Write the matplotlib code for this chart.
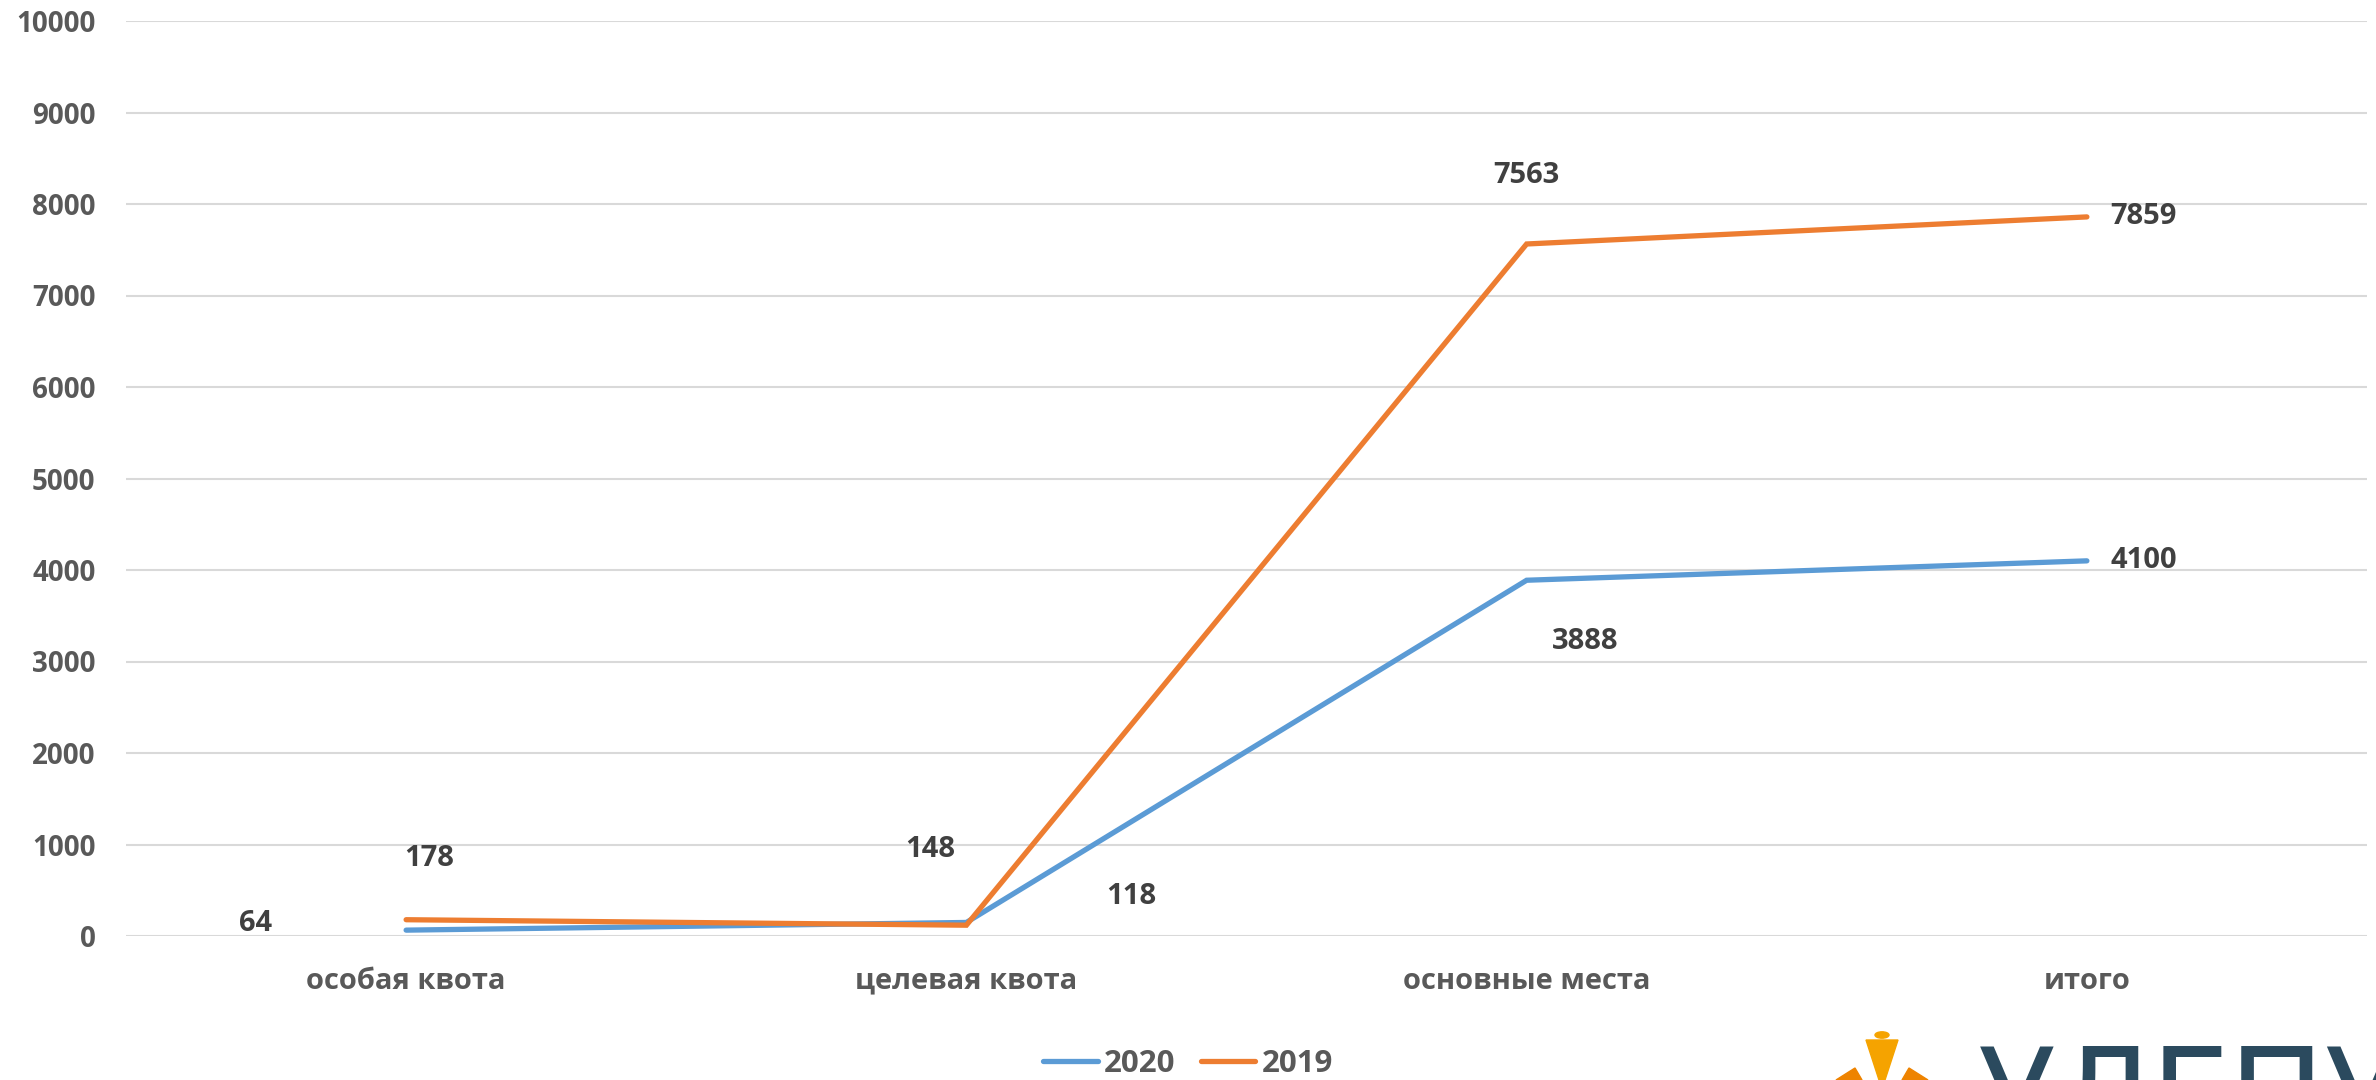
import matplotlib
matplotlib.use('Agg')
import matplotlib.pyplot as plt
from matplotlib.patches import Circle, Polygon

plt.rcParams['font.family'] = ['Open Sans', 'DejaVu Sans']

# data
categories = ['особая квота', 'целевая квота', 'основные места', 'итого']
years = ['2020', '2019']
values_2020 = [64, 148, 3888, 4100]
values_2019 = [178, 118, 7563, 7859]
yticks = [0, 1000, 2000, 3000, 4000, 5000, 6000, 7000, 8000, 9000, 10000]

# label offsets in pixels (how the original chart placed them)
offsets_2020 = [(-151, 7), (-36, 73), (59, -61), (57, 0)]
offsets_2019 = [(23, 61), (165, 29), (0, 68), (57, 0)]

colors = {'2020': '#5B9BD5', '2019': '#ED7D31'}
grey = '#595959'
label_col = '#404040'

fig = plt.figure(figsize=(23.76, 10.8), dpi=100)
ax = fig.add_axes([126/2376, 1-936/1080, (2367-126)/2376, (936-21)/1080])

x = list(range(len(categories)))
for year, vals in zip(years, [values_2020, values_2019]):
    ax.plot(x, vals, color=colors[year], lw=3.8, solid_capstyle='round',
            solid_joinstyle='miter', label=year, zorder=3)

for vals, offs in [(values_2020, offsets_2020), (values_2019, offsets_2019)]:
    for xi, v, (dx, dy) in zip(x, vals, offs):
        ax.annotate(str(v), (xi, v), xytext=(dx, dy), textcoords='offset pixels',
                    ha='center', va='center', fontsize=21, fontweight='bold',
                    color=label_col)

ax.set_xlim(-0.5, len(categories) - 0.5)
ax.set_ylim(0, 10000)
ax.set_yticks(yticks)
ax.set_yticklabels([str(t) for t in yticks], fontsize=20, fontweight='bold', color=grey)
ax.set_xticks(x)
ax.set_xticklabels(categories, fontsize=21, fontweight='bold', color=grey)
ax.tick_params(axis='both', length=0)
ax.tick_params(axis='y', pad=22)
ax.tick_params(axis='x', pad=22)
ax.grid(axis='y', color='#D9D9D9', lw=1.5, zorder=0)
ax.set_axisbelow(True)
for s in ax.spines.values():
    s.set_visible(False)

leg = fig.legend(loc='center', bbox_to_anchor=(0.5, 1-1064/1080), ncol=2, frameon=False,
                 fontsize=22.5, handlelength=1.75, handletextpad=0.2, columnspacing=0.8)
for t in leg.get_texts():
    t.set_fontweight('bold')
    t.set_color(grey)
for h in leg.get_lines():
    h.set_linewidth(3.8)
    h.set_solid_capstyle('round')

# logo in the corner (partly cut off by the figure edge)
W, H = 2376, 1080
def fxy(px, py):
    return (px / W, 1 - py / H)

fig.text(*fxy(1978, 1042), 'УЛГПУ', fontsize=92, color='#2B4A5E', ha='left', va='top',
         family=['DejaVu Sans Condensed', 'DejaVu Sans'])
fig.patches.append(Circle(fxy(1882, 1035), 7/W, transform=fig.transFigure,
                          color='#F5A300', zorder=5))
fig.patches.append(Polygon([fxy(1866, 1040), fxy(1898, 1040), fxy(1885, 1080), fxy(1879, 1080)],
                           closed=True, transform=fig.transFigure, color='#F5A300', zorder=5))
fig.patches.append(Polygon([fxy(1836, 1080), fxy(1855, 1068), fxy(1862, 1080)],
                           closed=True, transform=fig.transFigure, color='#EE8300', zorder=5))
fig.patches.append(Polygon([fxy(1928, 1080), fxy(1909, 1068), fxy(1902, 1080)],
                           closed=True, transform=fig.transFigure, color='#EE8300', zorder=5))

fig.savefig('out.png', dpi=100)
